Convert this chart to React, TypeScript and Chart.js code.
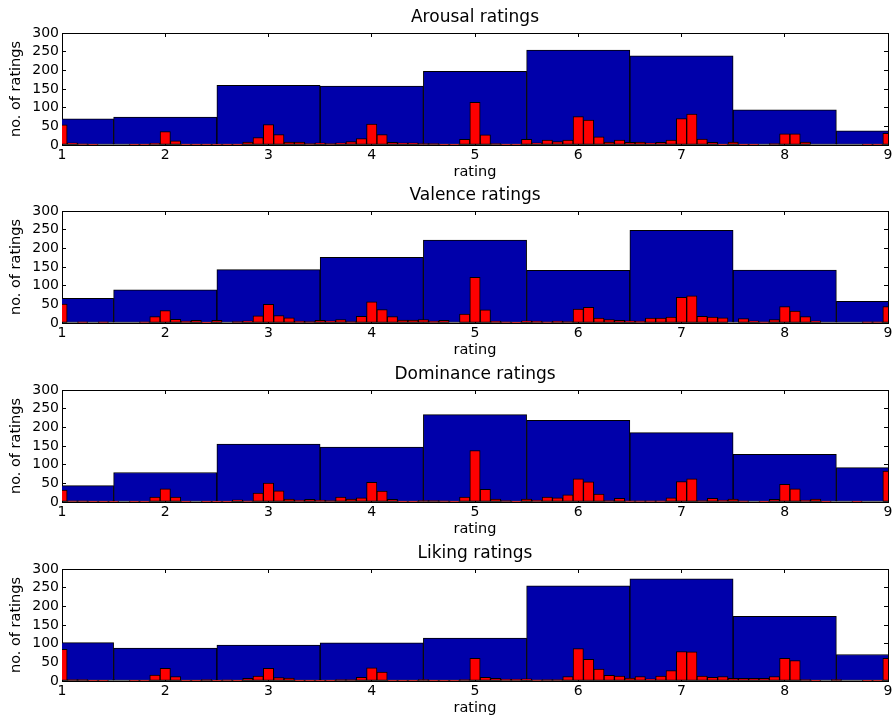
import React, { useEffect, useRef } from 'react';
import { Chart, registerables } from 'chart.js';

Chart.register(...registerables);

// Rating scale tick labels / coarse bins (integer ratings)
const RATING_TICKS = [1, 2, 3, 4, 5, 6, 7, 8, 9];
const COUNT_TICKS = [0, 50, 100, 150, 200, 250, 300];
const COARSE_BINS = [1, 2, 3, 4, 5, 6, 7, 8, 9];
// Fine bins (0.1 steps)
const FINE_BINS = [
  1.0, 1.1, 1.2, 1.3, 1.4, 1.5, 1.6, 1.7, 1.8, 1.9,
  2.0, 2.1, 2.2, 2.3, 2.4, 2.5, 2.6, 2.7, 2.8, 2.9,
  3.0, 3.1, 3.2, 3.3, 3.4, 3.5, 3.6, 3.7, 3.8, 3.9,
  4.0, 4.1, 4.2, 4.3, 4.4, 4.5, 4.6, 4.7, 4.8, 4.9,
  5.0, 5.1, 5.2, 5.3, 5.4, 5.5, 5.6, 5.7, 5.8, 5.9,
  6.0, 6.1, 6.2, 6.3, 6.4, 6.5, 6.6, 6.7, 6.8, 6.9,
  7.0, 7.1, 7.2, 7.3, 7.4, 7.5, 7.6, 7.7, 7.8, 7.9,
  8.0, 8.1, 8.2, 8.3, 8.4, 8.5, 8.6, 8.7, 8.8, 8.9,
  9.0,
];

const TITLES = ['Arousal ratings', 'Valence ratings', 'Dominance ratings', 'Liking ratings'];
const X_LABEL = 'rating';
const Y_LABEL = 'no. of ratings';

const AROUSAL_COARSE = [70, 75, 160, 158, 197, 254, 239, 94, 38];
const AROUSAL_FINE = [
  54, 6, 3, 1, 0, 0, 0, 1, 2, 5,
  36, 11, 2, 2, 2, 2, 2, 2, 8, 20,
  55, 28, 8, 8, 4, 6, 4, 6, 9, 17,
  56, 28, 7, 6, 6, 4, 4, 1, 1, 15,
  114, 27, 4, 1, 2, 15, 6, 13, 9, 13,
  76, 67, 22, 8, 13, 7, 8, 6, 7, 13,
  71, 83, 16, 7, 2, 8, 1, 2, 0, 4,
  30, 30, 8, 0, 0, 0, 0, 0, 1, 1,
  31,
];

const VALENCE_COARSE = [66, 89, 143, 176, 222, 141, 248, 142, 58];
const VALENCE_FINE = [
  51, 0, 3, 0, 3, 0, 0, 0, 3, 17,
  33, 10, 5, 7, 2, 7, 0, 4, 6, 19,
  50, 20, 14, 5, 4, 7, 6, 9, 4, 18,
  57, 36, 17, 8, 8, 9, 5, 7, 0, 24,
  122, 35, 5, 3, 1, 6, 5, 3, 5, 4,
  37, 42, 13, 9, 7, 6, 5, 13, 13, 16,
  69, 73, 18, 16, 14, 0, 12, 6, 3, 9,
  44, 32, 17, 6, 0, 0, 0, 0, 3, 3,
  44,
];

const DOMINANCE_COARSE = [44, 79, 155, 147, 234, 219, 186, 128, 92];
const DOMINANCE_FINE = [
  32, 3, 3, 1, 1, 1, 0, 1, 2, 13,
  35, 13, 1, 0, 1, 2, 1, 6, 3, 24,
  51, 30, 8, 5, 7, 5, 4, 13, 8, 11,
  53, 29, 7, 1, 1, 4, 4, 3, 1, 13,
  138, 34, 8, 4, 1, 8, 5, 13, 11, 19,
  62, 54, 21, 4, 10, 3, 3, 3, 3, 11,
  55, 62, 4, 10, 5, 8, 3, 0, 1, 7,
  47, 35, 5, 8, 1, 0, 0, 1, 0, 0,
  83,
];

const LIKING_COARSE = [103, 88, 96, 102, 115, 255, 274, 173, 71];
const LIKING_FINE = [
  85, 4, 4, 1, 2, 0, 0, 1, 2, 16,
  34, 12, 2, 2, 4, 1, 3, 1, 7, 13,
  34, 9, 8, 2, 2, 2, 1, 4, 4, 10,
  35, 24, 2, 1, 1, 4, 2, 1, 1, 4,
  61, 10, 7, 5, 5, 6, 3, 4, 4, 12,
  87, 58, 32, 15, 13, 8, 12, 6, 13, 28,
  79, 78, 13, 10, 12, 7, 7, 7, 7, 12,
  61, 55, 4, 2, 0, 4, 0, 0, 1, 1,
  61,
];

const PANELS = [
  { title: TITLES[0], coarse: AROUSAL_COARSE, fine: AROUSAL_FINE },
  { title: TITLES[1], coarse: VALENCE_COARSE, fine: VALENCE_FINE },
  { title: TITLES[2], coarse: DOMINANCE_COARSE, fine: DOMINANCE_FINE },
  { title: TITLES[3], coarse: LIKING_COARSE, fine: LIKING_FINE },
];

const FONT = 'DejaVu Sans';
const BLUE = '#0000aa';
const RED = '#ff0000';
const PANEL_TOPS = [0, 178, 357, 536];
const CANVAS_W = 892;
const CANVAS_H = 184;

function Panel({ title, coarse, fine, top }: { title: string; coarse: number[]; fine: number[]; top: number }) {
  const ref = useRef<HTMLCanvasElement | null>(null);
  useEffect(() => {
    if (!ref.current) return;
    const tickGrid = { drawOnChartArea: false, drawTicks: true, tickLength: -4, color: '#000', lineWidth: 1, offset: false };
    const border = { display: true, color: '#000', width: 1 };
    const xTicks = (s: any) => { s.ticks = RATING_TICKS.map((v) => ({ value: v })); };
    const yTicks = (s: any) => { s.ticks = COUNT_TICKS.map((v) => ({ value: v })); };
    const barCommon = {
      borderColor: '#000',
      borderWidth: 1,
      borderSkipped: false,
      barPercentage: 1,
      categoryPercentage: 1,
      grouped: false,
      clip: 0,
      yAxisID: 'y',
    };
    const chart = new Chart(ref.current, {
      type: 'bar',
      data: {
        datasets: [
          {
            ...barCommon,
            label: 'fine',
            data: FINE_BINS.map((x, i) => ({ x, y: fine[i] })),
            xAxisID: 'xTop',
            backgroundColor: RED,
            order: 0,
          } as any,
          {
            ...barCommon,
            label: 'coarse',
            data: COARSE_BINS.map((x, i) => ({ x, y: coarse[i] })),
            xAxisID: 'x',
            backgroundColor: BLUE,
            order: 1,
          } as any,
        ],
      },
      options: {
        animation: false,
        responsive: false,
        devicePixelRatio: 1,
        layout: { padding: { left: 0, right: 4, top: 0, bottom: 0 } },
        plugins: {
          legend: { display: false },
          tooltip: { enabled: false },
          title: {
            display: true,
            text: title,
            fullSize: false,
            color: '#000',
            font: { family: FONT, size: 17, weight: 'normal' },
            padding: { top: 7, bottom: 5.6 },
          },
        },
        scales: {
          x: {
            type: 'linear',
            position: 'bottom',
            min: RATING_TICKS[0],
            max: RATING_TICKS[RATING_TICKS.length - 1],
            offset: false,
            stacked: false,
            afterBuildTicks: xTicks,
            ticks: { color: '#000', font: { family: FONT, size: 14 }, padding: 6, maxRotation: 0, autoSkip: false },
            grid: tickGrid,
            border,
            title: { display: true, text: X_LABEL, color: '#000', font: { family: FONT, size: 14.5 }, padding: { top: 0, bottom: 3 } },
            afterFit: (s: any) => { s.height = CANVAS_H - 145; s.paddingLeft = 0; s.paddingRight = 0; },
          },
          xTop: {
            type: 'linear',
            position: 'top',
            display: true,
            min: RATING_TICKS[0],
            max: RATING_TICKS[RATING_TICKS.length - 1],
            offset: false,
            stacked: false,
            afterBuildTicks: xTicks,
            ticks: { display: false, autoSkip: false },
            grid: tickGrid,
            border,
            afterFit: (s: any) => { s.height = 0; s.paddingLeft = 0; s.paddingRight = 0; },
          },
          y: {
            type: 'linear',
            position: 'left',
            min: COUNT_TICKS[0],
            max: COUNT_TICKS[COUNT_TICKS.length - 1],
            stacked: false,
            afterBuildTicks: yTicks,
            ticks: { color: '#000', font: { family: FONT, size: 14 }, padding: 7, autoSkip: false },
            grid: tickGrid,
            border,
            title: { display: true, text: Y_LABEL, color: '#000', font: { family: FONT, size: 14.5 }, padding: { top: 8, bottom: 0 } },
            afterFit: (s: any) => { s.width = 62; s.paddingTop = 0; s.paddingBottom = 0; },
          },
          yRight: {
            type: 'linear',
            position: 'right',
            display: true,
            min: COUNT_TICKS[0],
            max: COUNT_TICKS[COUNT_TICKS.length - 1],
            afterBuildTicks: yTicks,
            ticks: { display: false, autoSkip: false },
            grid: tickGrid,
            border,
            afterFit: (s: any) => { s.width = 0; s.paddingTop = 0; s.paddingBottom = 0; },
          },
        },
      } as any,
    });
    return () => chart.destroy();
  }, [title, coarse, fine]);
  return (
    <canvas
      ref={ref}
      width={CANVAS_W}
      height={CANVAS_H}
      style={{ position: 'absolute', left: 0, top, width: CANVAS_W, height: CANVAS_H, display: 'block' }}
    />
  );
}

export default function App() {
  return (
    <div style={{ position: 'absolute', left: 0, top: 0, width: 892, height: 718, overflow: 'hidden', background: '#fff' }}>
      {PANELS.map((p, i) => (
        <Panel key={p.title} title={p.title} coarse={p.coarse} fine={p.fine} top={PANEL_TOPS[i]} />
      ))}
    </div>
  );
}
